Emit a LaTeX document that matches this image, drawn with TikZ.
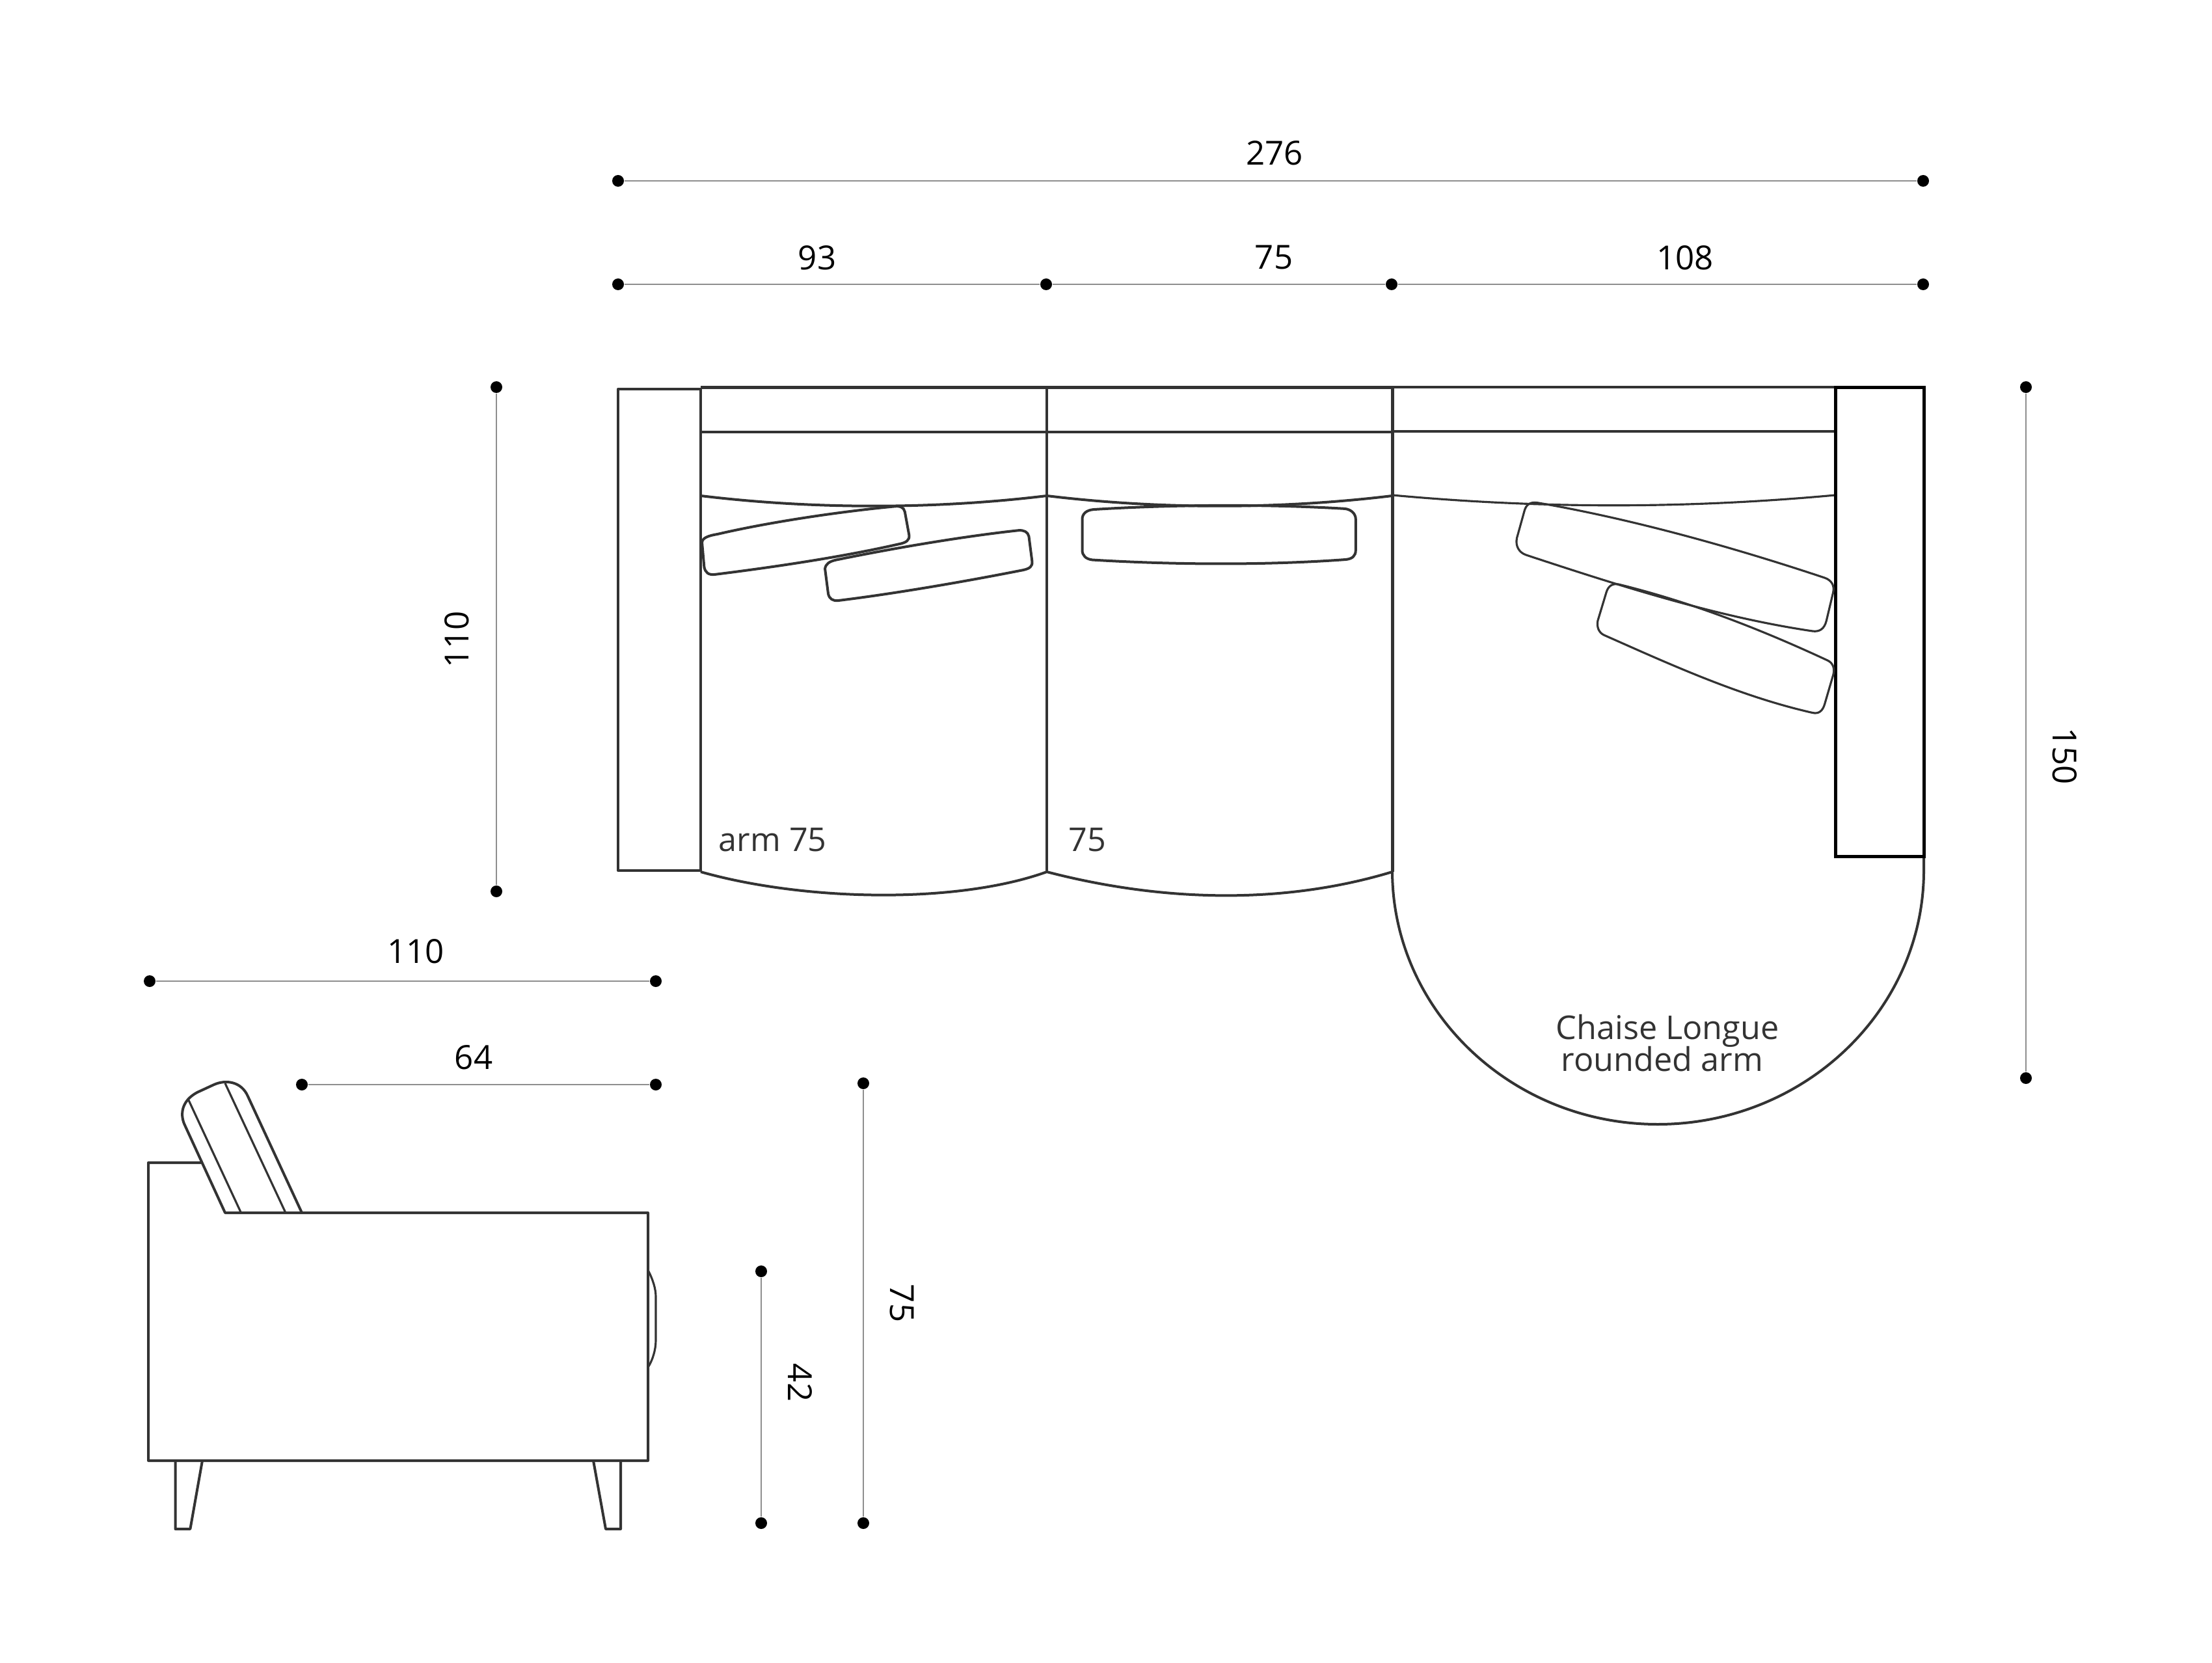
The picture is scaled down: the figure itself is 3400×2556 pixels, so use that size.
\documentclass[tikz,border=0pt]{standalone}
\usepackage{fontspec}
\setmainfont{Open Sans}
\definecolor{ink}{HTML}{333333}
\definecolor{dimgrey}{HTML}{8E8E8E}
\tikzset{
  sofa/.style={draw=ink,line width=1.2pt,line join=round},
  sofathin/.style={draw=ink,line width=0.95pt,line join=round},
  sofaheavy/.style={draw=ink,line width=1.5pt,line join=miter},
  armblack/.style={draw=black,line width=1.5pt},
  dimdot/.style={circle,fill=black,draw=none,inner sep=0pt,minimum size=5.4pt},
  dimline/.style={draw=dimgrey,line width=0.5pt},
  dimtext/.style={inner sep=0pt,text=black,font=\fontsize{15.3}{18}\selectfont},
  innertext/.style={inner sep=0pt,text=ink,font=\fontsize{15.1}{18}\selectfont},
}
\begin{document}
\begin{tikzpicture}[x=0.3pt,y=-0.3pt]
\useasboundingbox (0,0) rectangle (3400,2556);
\fill[white] (0,0) rectangle (3400,2556);

% ---------- dimension lines ----------
\node[dimdot] (ta) at (950,278) {};
\node[dimdot] (tb) at (2956,278) {};
\draw[dimline] (ta) -- (tb);
\node[dimtext] (t276) at (1959,235) {276};

\node[dimdot] (ra) at (950,437) {};
\node[dimdot] (rb) at (1608,437) {};
\node[dimdot] (rc) at (2139,437) {};
\node[dimdot] (rd) at (2956,437) {};
\draw[dimline] (ra) -- (rb);
\draw[dimline] (rb) -- (rc);
\draw[dimline] (rc) -- (rd);
\node[dimtext] (t93) at (1256,396) {93};
\node[dimtext] (t75a) at (1958,396) {75};
\node[dimtext] (t108) at (2590,396) {108};

\node[dimdot] (va) at (763,595) {};
\node[dimdot] (vb) at (763,1370) {};
\draw[dimline] (va) -- (vb);
\node[dimtext,rotate=90] (t110v) at (702,983) {110};

\node[dimdot] (wa) at (3114,595) {};
\node[dimdot] (wb) at (3114,1657) {};
\draw[dimline] (wa) -- (wb);
\node[dimtext,rotate=-90] (t150) at (3174,1162) {150};

\node[dimdot] (ha) at (230,1508) {};
\node[dimdot] (hb) at (1008,1508) {};
\draw[dimline] (ha) -- (hb);
\node[dimtext] (t110h) at (639,1462) {110};

\node[dimdot] (ia) at (464,1667) {};
\node[dimdot] (ib) at (1008,1667) {};
\draw[dimline] (ia) -- (ib);
\node[dimtext] (t64) at (728,1625) {64};

\node[dimdot] (ja) at (1327,1665) {};
\node[dimdot] (jb) at (1327,2341) {};
\draw[dimline] (ja) -- (jb);
\node[dimtext,rotate=-90] (t75b) at (1386,2003) {75};

\node[dimdot] (ka) at (1170,1954) {};
\node[dimdot] (kb) at (1170,2341) {};
\draw[dimline] (ka) -- (kb);
\node[dimtext,rotate=-90] (t42) at (1230,2125) {42};

% ---------- plan view ----------
\draw[sofa] (1077,598) -- (950,598) -- (950,1338) -- (1077,1338);
\draw[sofa] (1077,596) -- (1077,1340);
\draw[sofathin] (1609,596) -- (1609,1340);
\draw[sofaheavy] (1077,596) -- (2140,596);
\draw[sofa] (2140,595) -- (2821,595);
\draw[sofa] (1077,664) -- (2140,664);
\draw[sofathin] (2140,663) -- (2821,663);
\draw[sofaheavy] (2140,596) -- (2140,1340);

% seat fronts of the back cushions
\draw[sofa] (1077,762) .. controls (1250,783) and (1436,783) .. (1609,762);
\draw[sofa] (1609,762) .. controls (1782,783) and (1967,783) .. (2140,762);
\draw[sofathin] (2140,761) .. controls (2368,782) and (2593,782) .. (2821,761);

% seat edges
\draw[sofa] (1077,1340) .. controls (1236,1385) and (1470,1390) .. (1609,1340);
\draw[sofa] (1609,1340) .. controls (1790,1387) and (1975,1390) .. (2140,1340);

% chaise
\draw[sofa] (2140,1338) .. controls (2140,1553) and (2323,1728) .. (2548,1728)
  .. controls (2773,1728) and (2957,1553) .. (2957,1338) -- (2957,1315);
\draw[armblack] (2821,596) rectangle (2957,1316);

% cushions measured on the first crop
\begin{scope}[shift={(900,550)},xscale=0.829,yscale=0.574]
\draw[sofa] (216,495) .. controls (216,482) and (228,476) .. (245,472)
  .. controls (340,440) and (470,412) .. (572,398)
  .. controls (583,396) and (590,400) .. (592,412) -- (600,475)
  .. controls (601,488) and (595,495) .. (580,499)
  .. controls (470,535) and (340,562) .. (240,580)
  .. controls (228,582) and (222,575) .. (220,560) -- cycle;
\draw[sofa] (444,565) .. controls (445,552) and (452,545) .. (465,541)
  .. controls (570,510) and (700,478) .. (803,462)
  .. controls (813,461) and (820,466) .. (822,478) -- (828,545)
  .. controls (829,558) and (824,564) .. (812,568)
  .. controls (700,600) and (570,632) .. (468,650)
  .. controls (458,651) and (452,645) .. (450,632) -- cycle;
\draw[sofa] (921,432) .. controls (921,418) and (928,408) .. (942,406)
  .. controls (1100,392) and (1270,392) .. (1408,404)
  .. controls (1420,406) and (1428,418) .. (1428,432) -- (1428,515)
  .. controls (1428,530) and (1422,538) .. (1410,540)
  .. controls (1270,555) and (1100,555) .. (940,541)
  .. controls (928,539) and (921,530) .. (921,515) -- cycle;
\end{scope}

% cushions measured on the second crop
\begin{scope}[shift={(2100,550)},xscale=0.6378,yscale=0.765]
\draw[sofathin] (363,362) -- (381,308)
  .. controls (385,295) and (395,289) .. (412,291)
  .. controls (650,325) and (900,385) .. (1105,442)
  .. controls (1122,447) and (1129,458) .. (1125,472) -- (1109,528)
  .. controls (1104,545) and (1092,551) .. (1075,549)
  .. controls (840,520) and (600,455) .. (385,396)
  .. controls (368,391) and (359,378) .. (363,362) -- cycle;
\draw[sofathin] (558,528) -- (579,470)
  .. controls (584,458) and (593,453) .. (608,455)
  .. controls (780,490) and (950,545) .. (1112,608)
  .. controls (1125,613) and (1130,625) .. (1125,638) -- (1105,695)
  .. controls (1100,710) and (1090,716) .. (1075,713)
  .. controls (900,680) and (730,615) .. (573,557)
  .. controls (560,552) and (555,540) .. (558,528) -- cycle;
\end{scope}

% plan labels
\node[innertext,anchor=base west] (larm) at (1104,1308) {arm 75};
\node[innertext,anchor=base west] (l75) at (1642,1308) {75};
\node[innertext,anchor=base] (lch) at (2563,1597) {Chaise Longue};
\node[innertext,anchor=base] (lrd) at (2555,1646) {rounded arm};

% ---------- side view ----------
\draw[sofa] (309,1787) -- (228,1787) -- (228,2245) -- (996,2245) -- (996,1864) -- (346,1864)
  -- (283,1727) .. controls (277,1712) and (279,1692) .. (303,1679)
  -- (329,1667) .. controls (347,1659) and (371,1662) .. (381,1685)
  -- (464,1864);
\draw[sofathin] (290,1691) -- (370.5,1864);
\draw[sofathin] (346,1665) -- (439,1864);
\draw[sofathin] (997,1954) .. controls (1003,1966) and (1008,1980) .. (1008,1993)
  -- (1008,2060) .. controls (1008,2075) and (1003,2090) .. (997,2100);
\draw[sofa] (269.5,2245) -- (269.5,2350) -- (292.4,2350) -- (311,2245);
\draw[sofa] (912,2245) -- (931,2350) -- (954,2350) -- (954,2245);
\end{tikzpicture}
\end{document}
